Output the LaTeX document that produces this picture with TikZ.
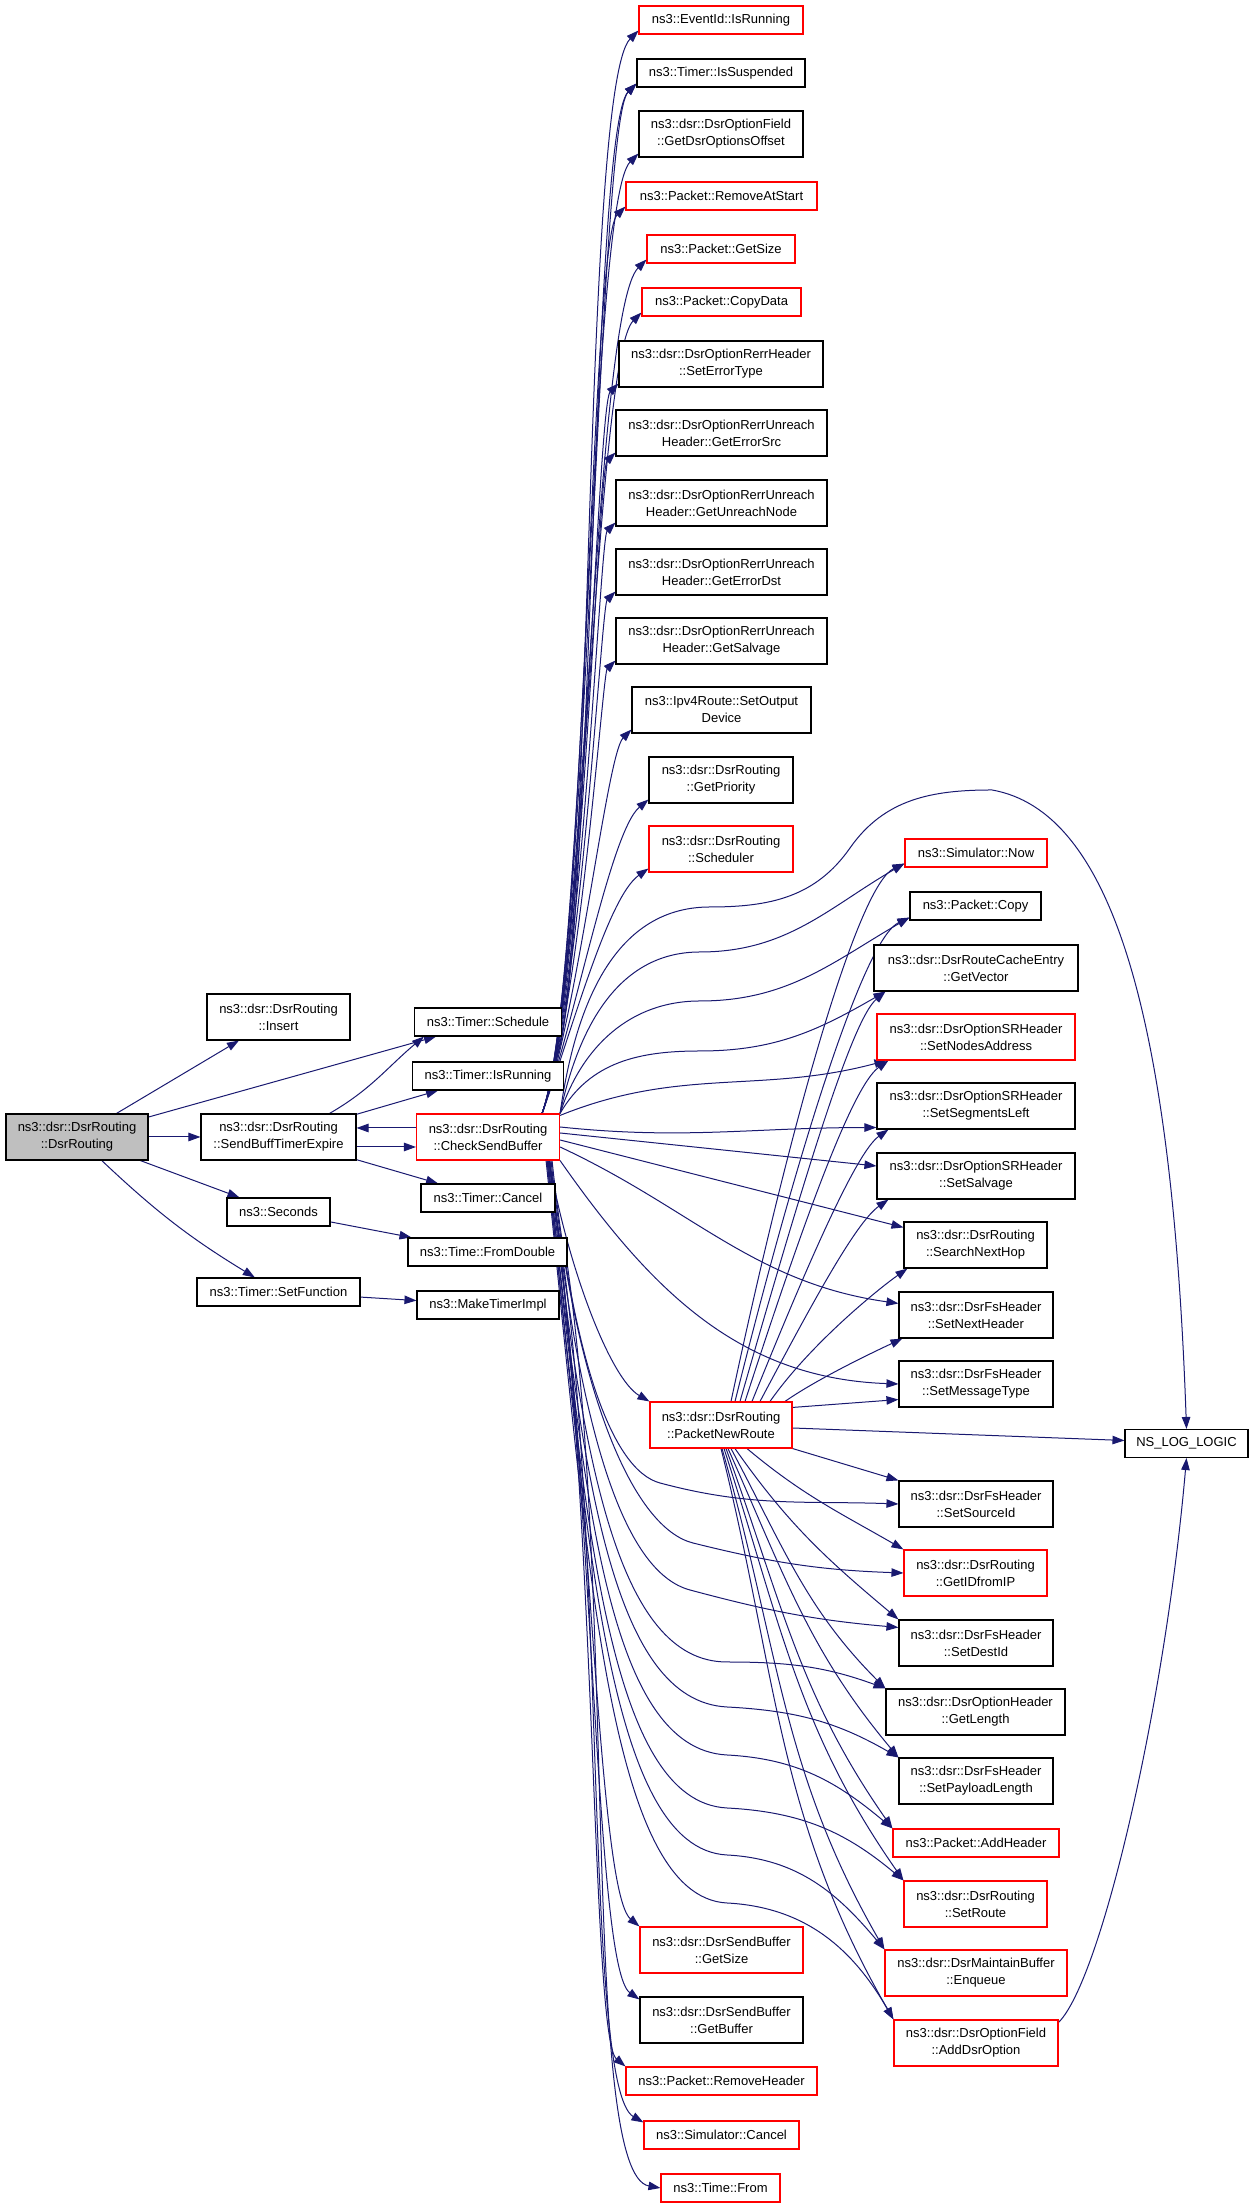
\documentclass[tikz,border=0pt]{standalone}
\usepackage{fontspec}
\setmainfont{Liberation Sans}
\usepackage{xcolor}
\usetikzlibrary{arrows.meta,backgrounds}
\definecolor{navyline}{HTML}{191970}

\begin{document}
\begin{tikzpicture}[x=1pt, y=1pt, ->, >={Triangle[length=12pt,width=8.5pt]},
    fn/.style={draw=black, fill=white, rectangle, line width=1.1pt, inner sep=2pt,
               align=center, minimum height=28pt, font=\fontsize{13}{17}\selectfont},
    hot/.style={fn, draw=red},
    two/.style={minimum height=46pt},
    wire/.style={draw=navyline, line width=1pt},
    swing/.style n args={4}{to path={.. controls +(#1:#2) and +(#3:#4) .. (\tikztotarget)}},
    every edge/.style={wire}]
\useasboundingbox (0,0) rectangle (1253,2208);

% caller and first level
\node[fn, two, fill=gray!50, minimum width=142pt] (root) at (77,1071) {ns3::dsr::DsrRouting\\::DsrRouting};
\node[fn, two, minimum width=143pt] (insert) at (278.5,1191) {ns3::dsr::DsrRouting\\::Insert};
\node[fn, two, minimum width=155pt] (sbte) at (278.5,1071) {ns3::dsr::DsrRouting\\::SendBuffTimerExpire};
\node[fn, minimum width=103pt] (seconds) at (278.5,996) {ns3::Seconds};
\node[fn, minimum width=163pt] (setfn) at (278.5,916) {ns3::Timer::SetFunction};

% second level
\node[fn, minimum width=147pt] (sched) at (488,1186) {ns3::Timer::Schedule};
\node[fn, minimum width=151pt] (isrun) at (488,1132) {ns3::Timer::IsRunning};
\node[hot, two, minimum width=143pt] (csb) at (488,1071) {ns3::dsr::DsrRouting\\::CheckSendBuffer};
\node[fn, minimum width=134pt] (cancel) at (488,1010) {ns3::Timer::Cancel};
\node[fn, minimum width=159pt] (fromdbl) at (487.5,956) {ns3::Time::FromDouble};
\node[fn, minimum width=142pt] (mkti) at (488,903) {ns3::MakeTimerImpl};

% third level
\node[hot, minimum width=164pt] (evrun) at (721,2188) {ns3::EventId::IsRunning};
\node[fn, minimum width=168pt] (issusp) at (721,2135) {ns3::Timer::IsSuspended};
\node[fn, two, minimum width=164pt] (optoff) at (721,2074) {ns3::dsr::DsrOptionField\\::GetDsrOptionsOffset};
\node[hot, minimum width=191pt] (rmstart) at (721.5,2012) {ns3::Packet::RemoveAtStart};
\node[hot, minimum width=148pt] (pgetsize) at (721,1959) {ns3::Packet::GetSize};
\node[hot, minimum width=159pt] (copydata) at (721.5,1906) {ns3::Packet::CopyData};
\node[fn, two, minimum width=204pt] (errtype) at (721,1844) {ns3::dsr::DsrOptionRerrHeader\\::SetErrorType};
\node[fn, two, minimum width=211pt] (errsrc) at (721.5,1775) {ns3::dsr::DsrOptionRerrUnreach\\Header::GetErrorSrc};
\node[fn, two, minimum width=211pt] (unreach) at (721.5,1705) {ns3::dsr::DsrOptionRerrUnreach\\Header::GetUnreachNode};
\node[fn, two, minimum width=211pt] (errdst) at (721.5,1636) {ns3::dsr::DsrOptionRerrUnreach\\Header::GetErrorDst};
\node[fn, two, minimum width=211pt] (rerrsalv) at (721.5,1567) {ns3::dsr::DsrOptionRerrUnreach\\Header::GetSalvage};
\node[fn, two, minimum width=179pt] (outdev) at (721.5,1498) {ns3::Ipv4Route::SetOutput\\Device};
\node[fn, two, minimum width=144pt] (prio) at (721,1428) {ns3::dsr::DsrRouting\\::GetPriority};
\node[hot, two, minimum width=144pt] (scheduler) at (721,1359) {ns3::dsr::DsrRouting\\::Scheduler};
\node[hot, two, minimum width=142pt] (pnr) at (721,783) {ns3::dsr::DsrRouting\\::PacketNewRoute};
\node[hot, two, minimum width=163pt] (sbsize) at (721.5,258) {ns3::dsr::DsrSendBuffer\\::GetSize};
\node[fn, two, minimum width=163pt] (sbbuf) at (721.5,188) {ns3::dsr::DsrSendBuffer\\::GetBuffer};
\node[hot, minimum width=191pt] (rmhdr) at (721.5,127) {ns3::Packet::RemoveHeader};
\node[hot, minimum width=155pt] (simcancel) at (721.5,73) {ns3::Simulator::Cancel};
\node[hot, minimum width=119pt] (tfrom) at (720.5,20) {ns3::Time::From};

% fourth level
\node[hot, minimum width=142pt] (now) at (976,1355) {ns3::Simulator::Now};
\node[fn, minimum width=131pt] (copy) at (975.5,1302) {ns3::Packet::Copy};
\node[fn, two, minimum width=204pt] (getvec) at (976,1240) {ns3::dsr::DsrRouteCacheEntry\\::GetVector};
\node[hot, two, minimum width=198pt] (nodesaddr) at (976,1171) {ns3::dsr::DsrOptionSRHeader\\::SetNodesAddress};
\node[fn, two, minimum width=198pt] (segleft) at (976,1102) {ns3::dsr::DsrOptionSRHeader\\::SetSegmentsLeft};
\node[fn, two, minimum width=198pt] (srsalv) at (976,1032) {ns3::dsr::DsrOptionSRHeader\\::SetSalvage};
\node[fn, two, minimum width=143pt] (nexthop) at (975.5,963) {ns3::dsr::DsrRouting\\::SearchNextHop};
\node[fn, two, minimum width=154pt] (nexthdr) at (976,893) {ns3::dsr::DsrFsHeader\\::SetNextHeader};
\node[fn, two, minimum width=154pt] (msgtype) at (976,824) {ns3::dsr::DsrFsHeader\\::SetMessageType};
\node[fn, two, minimum width=154pt] (srcid) at (976,704) {ns3::dsr::DsrFsHeader\\::SetSourceId};
\node[hot, two, minimum width=143pt] (idfromip) at (975.5,635) {ns3::dsr::DsrRouting\\::GetIDfromIP};
\node[fn, two, minimum width=154pt] (destid) at (976,565) {ns3::dsr::DsrFsHeader\\::SetDestId};
\node[fn, two, minimum width=179pt] (getlen) at (975.5,496) {ns3::dsr::DsrOptionHeader\\::GetLength};
\node[fn, two, minimum width=154pt] (paylen) at (976,427) {ns3::dsr::DsrFsHeader\\::SetPayloadLength};
\node[hot, minimum width=166pt] (addhdr) at (976,365) {ns3::Packet::AddHeader};
\node[hot, two, minimum width=143pt] (setroute) at (975.5,304) {ns3::dsr::DsrRouting\\::SetRoute};
\node[hot, two, minimum width=182pt] (enqueue) at (976,235) {ns3::dsr::DsrMaintainBuffer\\::Enqueue};
\node[hot, two, minimum width=164pt] (adddsr) at (976,165) {ns3::dsr::DsrOptionField\\::AddDsrOption};
\node[fn, minimum width=123pt] (nslog) at (1186.5,764.5) {NS\_LOG\_LOGIC};

\begin{scope}[on background layer]
% first calls
\path (root) edge (insert)
      (root) edge (sched)
      (root) edge (sbte)
      (root) edge (seconds)
      (root) edge[bend right=6] (setfn);
\path ([xshift=-27pt]sbte.north east) edge[swing={30}{48pt}{220}{48pt}] ([xshift=10pt]sched.south west)
      (sbte) edge (isrun)
      ([yshift=-10pt]sbte.east) edge ([yshift=-10pt]csb.west)
      (sbte) edge (cancel)
      ([yshift=9pt]csb.west) edge ([yshift=9pt]sbte.east)
      (seconds) edge (fromdbl)
      (setfn) edge (mkti);

% timer internals
\path ([xshift=-9pt]isrun.north east) edge[swing={65}{90pt}{225}{80pt}] ([yshift=4pt]evrun.south west)
      ([xshift=-9pt]isrun.north east) edge[swing={65}{90pt}{225}{65pt}] ([yshift=4pt]issusp.south west)
      (cancel.south east) edge[swing={-80}{300pt}{150}{70pt}] ([yshift=-2pt]simcancel.north west)
      (fromdbl.south east) edge[swing={-82}{350pt}{170}{80pt}] (tfrom.west);

% CheckSendBuffer, upwards
\path ([xshift=-18pt]csb.north east) edge[swing={70}{135pt}{225}{55pt}] ([yshift=4pt]issusp.south west)
      ([xshift=-18pt]csb.north east) edge[swing={70}{130pt}{225}{70pt}] ([yshift=4pt]optoff.south west)
      ([xshift=-18pt]csb.north east) edge[swing={70}{128pt}{225}{50pt}] ([yshift=4pt]rmstart.south west)
      ([xshift=-18pt]csb.north east) edge[swing={70}{125pt}{225}{75pt}] ([yshift=4pt]pgetsize.south west)
      ([xshift=-18pt]csb.north east) edge[swing={70}{122pt}{225}{65pt}] ([yshift=4pt]copydata.south west)
      ([xshift=-18pt]csb.north east) edge[swing={70}{120pt}{225}{30pt}] ([yshift=4pt]errtype.south west)
      ([xshift=-18pt]csb.north east) edge[swing={70}{118pt}{225}{25pt}] ([yshift=4pt]errsrc.south west)
      ([xshift=-18pt]csb.north east) edge[swing={70}{115pt}{225}{22pt}] ([yshift=4pt]unreach.south west)
      ([xshift=-18pt]csb.north east) edge[swing={70}{112pt}{225}{20pt}] ([yshift=4pt]errdst.south west)
      ([xshift=-18pt]csb.north east) edge[swing={70}{110pt}{225}{18pt}] ([yshift=4pt]rerrsalv.south west)
      ([xshift=-18pt]csb.north east) edge[swing={70}{105pt}{225}{35pt}] ([yshift=4pt]outdev.south west)
      ([xshift=-18pt]csb.north east) edge[swing={70}{95pt}{220}{50pt}] ([yshift=4pt]prio.south west)
      ([xshift=-18pt]csb.north east) edge[swing={70}{85pt}{215}{50pt}] ([yshift=4pt]scheduler.south west);

% CheckSendBuffer, downwards
\path ([xshift=-11pt]csb.south east) edge[swing={-80}{110pt}{150}{45pt}] (pnr.north west)
      ([xshift=-11pt]csb.south east) edge[swing={-82}{300pt}{140}{55pt}] (sbsize.north west)
      ([xshift=-11pt]csb.south east) edge[swing={-82}{330pt}{145}{55pt}] ([yshift=-3pt]sbbuf.north west)
      ([xshift=-11pt]csb.south east) edge[swing={-82}{350pt}{140}{45pt}] (rmhdr.north west);

% CheckSendBuffer, right column
\draw[wire] (csb.north east) .. controls +(82:100pt) and +(180:100pt) .. (710,1301)
      .. controls +(0:60pt) and +(235:60pt) .. (850,1360)
      .. controls +(55:60pt) and +(180:60pt) .. (992,1418)
      .. controls +(-10:120pt) and +(92:420pt) .. (nslog.north);
\draw[wire] (csb.north east) .. controls +(78:84pt) and +(180:84pt) .. (700,1256)
      .. controls +(0:87pt) and +(210:87pt) .. ([yshift=4pt]now.south west);
\draw[wire] (csb.north east) .. controls +(72:70pt) and +(180:70pt) .. (700,1207)
      .. controls +(0:88pt) and +(210:88pt) .. ([yshift=3pt]copy.south west);
\draw[wire] (csb.north east) .. controls +(60:60pt) and +(180:60pt) .. (700,1157)
      .. controls +(0:76pt) and +(210:76pt) .. ([xshift=12pt]getvec.south west);
\path ([yshift=-2pt]csb.north east) edge[swing={22}{130pt}{195}{130pt}] ([xshift=10pt]nodesaddr.south west)
      ([yshift=10pt]csb.east) edge[swing={-6}{124pt}{180}{124pt}] ([yshift=2pt]segleft.south west)
      ([yshift=4pt]csb.east) edge ([yshift=10pt]srsalv.west)
      ([yshift=-3pt]csb.east) edge ([yshift=-6pt]nexthop.north west)
      ([yshift=-10pt]csb.east) edge[swing={-25}{146pt}{172}{146pt}] ([yshift=-12pt]nexthdr.north west)
      (csb.south east) edge[swing={-55}{159pt}{178}{159pt}] (msgtype.west);
\draw[wire] ([xshift=-8pt]csb.south east) .. controls +(-84:200pt) and +(165:50pt) .. (660,725)
      .. controls +(-15:94pt) and +(178:94pt) .. (srcid.west);
\draw[wire] ([xshift=-9pt]csb.south east) .. controls +(-84:240pt) and +(166:60pt) .. (693,665)
      .. controls +(-14:83pt) and +(178:83pt) .. (idfromip.west);
\draw[wire] ([xshift=-10pt]csb.south east) .. controls +(-84:270pt) and +(165:70pt) .. (690,618)
      .. controls +(-15:83pt) and +(175:83pt) .. ([yshift=-8pt]destid.north west);
\draw[wire] ([xshift=-11pt]csb.south east) .. controls +(-84:300pt) and +(180:110pt) .. (727,546)
      .. controls +(0:63pt) and +(160:63pt) .. (getlen.north west);
\draw[wire] ([xshift=-12pt]csb.south east) .. controls +(-84:320pt) and +(177:115pt) .. (727,501)
      .. controls +(-3:70pt) and +(150:70pt) .. (paylen.north west);
\draw[wire] ([xshift=-12pt]csb.south east) .. controls +(-84:340pt) and +(177:120pt) .. (727,453)
      .. controls +(-3:71pt) and +(140:71pt) .. (addhdr.north west);
\draw[wire] ([xshift=-13pt]csb.south east) .. controls +(-84:360pt) and +(177:120pt) .. (727,400)
      .. controls +(-3:75pt) and +(140:75pt) .. (setroute.north west);
\draw[wire] ([xshift=-13pt]csb.south east) .. controls +(-84:380pt) and +(177:120pt) .. (727,353)
      .. controls +(-3:72pt) and +(130:72pt) .. (enqueue.north west);
\draw[wire] ([xshift=-14pt]csb.south east) .. controls +(-84:400pt) and +(177:120pt) .. (727,305)
      .. controls +(-3:80pt) and +(120:80pt) .. (adddsr.north west);

% PacketNewRoute
\path ([xshift=10pt]pnr.north) edge[swing={78}{300pt}{205}{50pt}] ([yshift=4pt]now.south west)
      ([xshift=14pt]pnr.north) edge[swing={76}{260pt}{205}{50pt}] ([yshift=3pt]copy.south west)
      ([xshift=19pt]pnr.north) edge[swing={74}{220pt}{220}{45pt}] ([xshift=12pt]getvec.south west)
      ([xshift=24pt]pnr.north) edge[swing={72}{180pt}{215}{45pt}] ([xshift=12pt]nodesaddr.south west)
      ([xshift=31pt]pnr.north) edge[swing={68}{140pt}{215}{40pt}] ([xshift=12pt]segleft.south west)
      ([xshift=39pt]pnr.north) edge[swing={62}{110pt}{215}{40pt}] ([xshift=12pt]srsalv.south west)
      ([xshift=49pt]pnr.north) edge[swing={55}{70pt}{215}{35pt}] ([xshift=4pt]nexthop.south west)
      ([xshift=64pt]pnr.north) edge[swing={35}{40pt}{205}{30pt}] ([xshift=4pt]nexthdr.south west)
      ([yshift=-6pt]pnr.north east) edge ([yshift=8pt]msgtype.south west)
      ([yshift=-3pt]pnr.east) edge ([yshift=3pt]nslog.west)
      (pnr.south east) edge (srcid.north west)
      ([xshift=26pt]pnr.south) edge[swing={-40}{73pt}{150}{73pt}] (idfromip.north west)
      ([xshift=14pt]pnr.south) edge[swing={-55}{93pt}{140}{93pt}] (destid.north west)
      ([xshift=10pt]pnr.south) edge[swing={-62}{112pt}{135}{112pt}] (getlen.north west)
      ([xshift=7pt]pnr.south) edge[swing={-66}{139pt}{130}{139pt}] (paylen.north west)
      ([xshift=5pt]pnr.south) edge[swing={-70}{163pt}{125}{163pt}] (addhdr.north west)
      ([xshift=3pt]pnr.south) edge[swing={-72}{184pt}{125}{184pt}] (setroute.north west)
      ([xshift=1pt]pnr.south) edge[swing={-74}{207pt}{120}{207pt}] (enqueue.north west)
      (pnr.south) edge[swing={-76}{234pt}{120}{234pt}] (adddsr.north west);

% AddDsrOption
\path ([yshift=-3pt]adddsr.north east) edge[swing={45}{60pt}{-95}{250pt}] (nslog.south);
\end{scope}
\end{tikzpicture}
\end{document}
